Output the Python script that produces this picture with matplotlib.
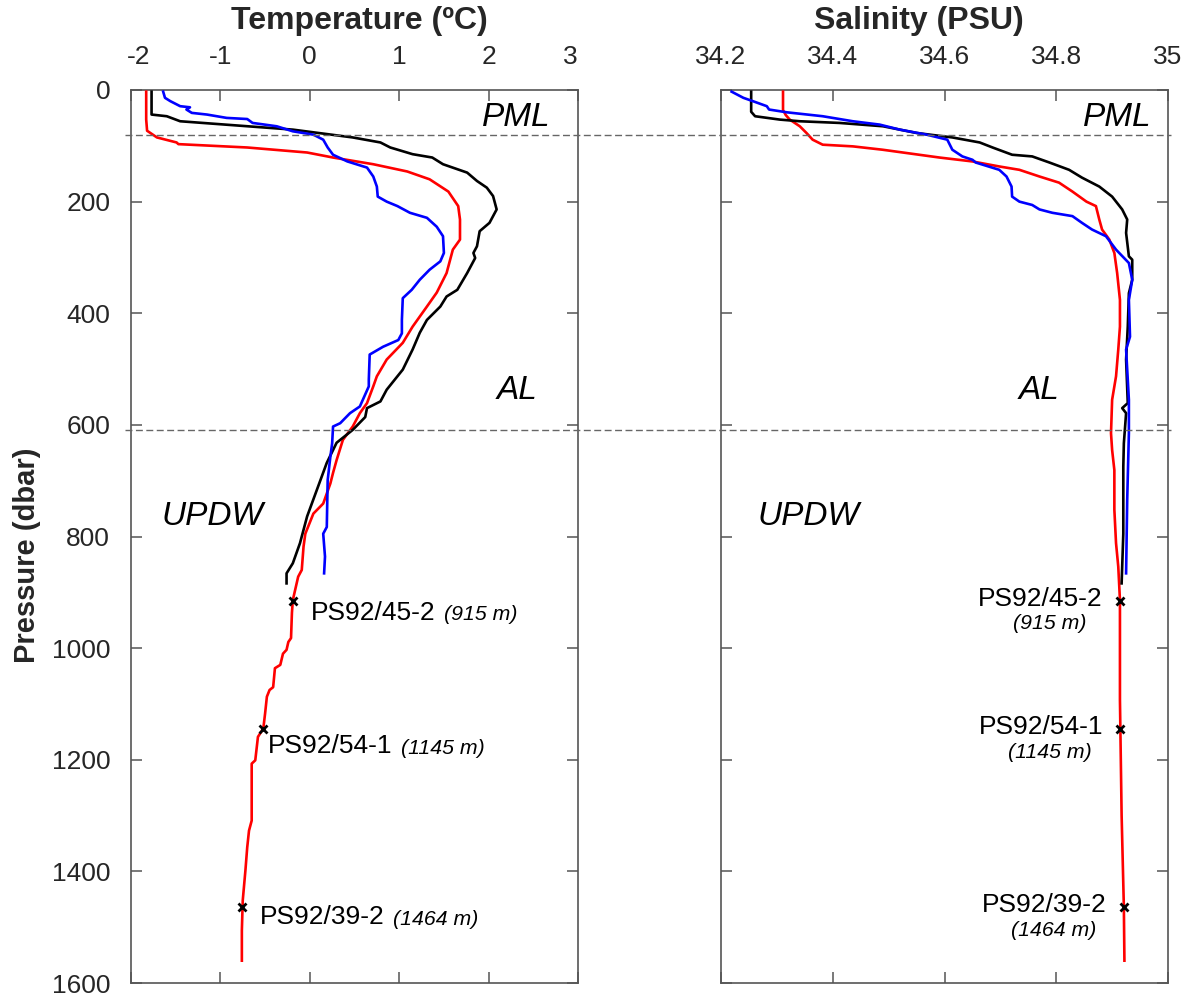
import matplotlib
matplotlib.use("Agg")
import matplotlib.pyplot as plt
from matplotlib.lines import Line2D
import matplotlib.transforms as mtransforms

plt.rcParams['font.family'] = ['Liberation Sans', 'DejaVu Sans']

# ---------------- data ----------------
# Temperature profiles (pressure in dbar, temperature in degC)
blk_T_p = [3, 44, 47, 56, 71, 85, 94, 103, 115, 121, 133, 148, 163, 175, 190, 214, 238, 253, 280, 292,
           301, 328, 358, 370, 388, 412, 435, 465, 501, 537, 558, 570, 586, 609, 632, 668, 716, 764, 812,
           848, 866, 884]
blk_T = [-1.77, -1.77, -1.60, -1.45, -0.19, 0.48, 0.79, 0.90, 1.15, 1.37, 1.49, 1.76, 1.87, 1.98, 2.05,
         2.09, 2.01, 1.90, 1.87, 1.83, 1.85, 1.76, 1.65, 1.53, 1.46, 1.31, 1.23, 1.15, 1.04, 0.86, 0.79,
         0.64, 0.62, 0.48, 0.30, 0.19, 0.08, -0.03, -0.11, -0.19, -0.26, -0.26]

red_T_p = [3, 53, 73, 85, 94, 97, 103, 112, 121, 133, 146, 160, 182, 208, 232, 268, 286, 328, 363, 388,
           424, 453, 483, 513, 531, 561, 579, 603, 627, 663, 686, 705, 741, 759, 795, 818, 860, 872, 914,
           937, 982, 989, 1003, 1010, 1030, 1036, 1070, 1075, 1087, 1117, 1144, 1159, 1201, 1207, 1309,
           1327, 1357, 1398, 1452, 1506, 1560]
red_T = [-1.83, -1.83, -1.82, -1.71, -1.49, -1.47, -0.70, -0.03, 0.26, 0.71, 1.09, 1.34, 1.55, 1.66,
         1.68, 1.68, 1.60, 1.53, 1.42, 1.31, 1.15, 1.04, 0.86, 0.75, 0.71, 0.64, 0.56, 0.48, 0.37, 0.30,
         0.26, 0.23, 0.15, 0.04, -0.05, -0.07, -0.09, -0.13, -0.19, -0.20, -0.21, -0.24, -0.26, -0.30,
         -0.33, -0.39, -0.41, -0.45, -0.48, -0.50, -0.52, -0.58, -0.61, -0.65, -0.65, -0.68, -0.70,
         -0.72, -0.75, -0.76, -0.76]

blu_T_p = [3, 14, 20, 29, 31, 35, 41, 44, 50, 52, 59, 65, 74, 80, 89, 103, 116, 128, 139, 155, 173, 191,
           200, 208, 220, 229, 245, 262, 292, 307, 322, 340, 358, 373, 412, 436, 448, 460, 474, 519, 531,
           567, 579, 597, 603, 633, 657, 699, 783, 795, 836, 866]
blu_T = [-1.64, -1.62, -1.56, -1.45, -1.34, -1.38, -1.32, -1.15, -0.93, -0.70, -0.64, -0.37, -0.19, 0.04,
         0.15, 0.20, 0.26, 0.42, 0.64, 0.71, 0.75, 0.76, 0.86, 0.98, 1.12, 1.31, 1.42, 1.49, 1.50, 1.46,
         1.34, 1.23, 1.14, 1.04, 1.03, 1.03, 0.99, 0.82, 0.67, 0.66, 0.66, 0.56, 0.45, 0.34, 0.26, 0.25,
         0.23, 0.20, 0.19, 0.15, 0.17, 0.16]

# Salinity profiles (pressure in dbar, salinity in PSU)
blk_S_p = [3, 39, 47, 53, 56, 59, 65, 77, 85, 94, 103, 116, 119, 130, 143, 157, 173, 191, 214, 232,
           256, 298, 304, 340, 364, 424, 483, 561, 570, 579, 633, 675, 795, 884]
blk_S = [34.254, 34.254, 34.261, 34.305, 34.341, 34.412, 34.490, 34.550, 34.614, 34.663, 34.686, 34.721,
         34.757, 34.788, 34.823, 34.846, 34.877, 34.900, 34.918, 34.927, 34.925, 34.930, 34.936, 34.936,
         34.930, 34.928, 34.925, 34.928, 34.918, 34.925, 34.921, 34.920, 34.920, 34.917]

red_S_p = [3, 36, 45, 53, 65, 77, 89, 98, 101, 107, 121, 128, 137, 143, 155, 166, 182, 200, 208, 232,
           250, 268, 292, 328, 376, 424, 465, 513, 555, 615, 645, 681, 752, 812, 854, 914, 1093, 1300,
           1464, 1560]
red_S = [34.311, 34.311, 34.316, 34.323, 34.341, 34.353, 34.364, 34.382, 34.436, 34.489, 34.591, 34.650,
         34.698, 34.734, 34.770, 34.805, 34.829, 34.854, 34.871, 34.877, 34.882, 34.895, 34.904, 34.909,
         34.914, 34.914, 34.911, 34.907, 34.900, 34.898, 34.900, 34.904, 34.904, 34.907, 34.911, 34.914,
         34.914, 34.917, 34.921, 34.922]

blu_S_p = [3, 14, 20, 29, 35, 40, 47, 56, 62, 71, 80, 89, 107, 119, 125, 130, 143, 155, 173, 191, 200,
           206, 214, 220, 226, 238, 250, 262, 286, 310, 340, 376, 442, 465, 555, 615, 734, 866]
blu_S = [34.219, 34.240, 34.257, 34.282, 34.286, 34.318, 34.382, 34.436, 34.484, 34.520, 34.568, 34.605,
         34.614, 34.632, 34.650, 34.656, 34.698, 34.711, 34.720, 34.721, 34.734, 34.757, 34.770, 34.793,
         34.829, 34.846, 34.864, 34.889, 34.907, 34.930, 34.936, 34.930, 34.932, 34.925, 34.930, 34.930,
         34.927, 34.925]

# Stations (sample depth markers)
station_names = ["PS92/45-2", "PS92/54-1", "PS92/39-2"]
station_depth_labels = ["(915 m)", "(1145 m)", "(1464 m)"]
station_P = [915, 1145, 1464]
station_T = [-0.19, -0.52, -0.76]
station_S = [34.914, 34.914, 34.921]

# Water-mass boundaries and labels
boundary_P = [80, 610]
layer_names = ["PML", "AL", "UPDW"]
layer_P = [65, 553, 779]
layer_T = [2.31, 2.32, -1.09]
layer_S = [34.909, 34.77, 34.357]

T_ticks = [-2, -1, 0, 1, 2, 3]
S_ticks = [34.2, 34.4, 34.6, 34.8, 35.0]
S_ticklabels = ["34.2", "34.4", "34.6", "34.8", "35"]
P_ticks = list(range(0, 1601, 200))

# ---------------- figure ----------------
W, H = 1190, 996
fig = plt.figure(figsize=(W / 100, H / 100), dpi=100)
ax1 = fig.add_axes([131 / W, 13 / H, 447 / W, 893 / H])
ax2 = fig.add_axes([721 / W, 13 / H, 447 / W, 893 / H])

spine_col = '#555555'
tick_col = '#262626'
lw = 1.9

ax1.plot(red_T, red_T_p, color='#ff0000', lw=lw, zorder=3)
ax1.plot(blk_T, blk_T_p, color='black', lw=lw, zorder=4)
ax1.plot(blu_T, blu_T_p, color='#0000ff', lw=lw, zorder=5)
ax1.plot(station_T, station_P, ls='none', marker='x', ms=6, mew=2, color='black', zorder=6)

ax2.plot(red_S, red_S_p, color='#ff0000', lw=lw, zorder=3)
ax2.plot(blk_S, blk_S_p, color='black', lw=lw, zorder=4)
ax2.plot(blu_S, blu_S_p, color='#0000ff', lw=lw, zorder=5)
ax2.plot(station_S, station_P, ls='none', marker='x', ms=6, mew=2, color='black', zorder=6)

for ax in (ax1, ax2):
    ax.set_ylim(1600, 0)
    ax.set_yticks(P_ticks)
    ax.xaxis.tick_top()
    ax.tick_params(axis='both', which='both', direction='in', length=8, width=1.1,
                   color=spine_col, labelcolor=tick_col, labelsize=19, pad=15,
                   top=True, bottom=True, left=True, right=True)
    ax.tick_params(axis='x', labeltop=True, labelbottom=False)
    for s in ax.spines.values():
        s.set_color(spine_col)
        s.set_linewidth(1.2)

ax1.set_xlim(-2, 3)
ax1.set_xticks(T_ticks)
ax1.set_xticklabels([str(t) for t in T_ticks])
ax2.set_xlim(34.2, 35.0)
ax2.set_xticks(S_ticks)
ax2.set_xticklabels(S_ticklabels)
ax2.tick_params(axis='y', labelleft=False)

# nudge the end labels of the temperature axis inward, as in the original
ticks1 = ax1.xaxis.get_major_ticks()
ticks1[0].label2.set_transform(ticks1[0].label2.get_transform() +
                               mtransforms.ScaledTranslation(8 / 100, 0, fig.dpi_scale_trans))
ticks1[-1].label2.set_transform(ticks1[-1].label2.get_transform() +
                                mtransforms.ScaledTranslation(-8 / 100, 0, fig.dpi_scale_trans))

# titles
fig.text(359 / W, 1 - 21 / H, "Temperature (ºC)", ha='center', va='center',
         fontsize=23, fontweight='bold', color='#262626')
fig.text(919 / W, 1 - 21 / H, "Salinity (PSU)", ha='center', va='center',
         fontsize=23, fontweight='bold', color='#262626')
fig.text(27 / W, 1 - 555 / H, "Pressure (dbar)", ha='center', va='center', rotation=90,
         fontsize=21, fontweight='bold', color='#262626',
         family=['Liberation Sans Narrow', 'Liberation Sans', 'DejaVu Sans'])

# dashed boundaries across both panels
tr = mtransforms.blended_transform_factory(fig.transFigure, ax1.transData)
for p in boundary_P:
    fig.add_artist(Line2D([0.105, 0.984], [p, p], transform=tr, ls=(0, (5, 2.5)),
                          lw=1.0, color='#666666', zorder=10))

# layer labels
for name, p, t, s in zip(layer_names, layer_P, layer_T, layer_S):
    ax1.text(t, p, name, ha='center', va='baseline', fontsize=24, style='italic')
    ax2.text(s, p, name, ha='center', va='baseline', fontsize=24, style='italic')

# station labels, temperature panel
t_offsets = [(18, -12), (5, -17), (18, -10)]
for name, dl, t, p, (dx, dy) in zip(station_names, station_depth_labels, station_T, station_P, t_offsets):
    ax1.annotate(name, xy=(t, p), xytext=(dx, dy), textcoords='offset pixels',
                 ha='left', va='center', fontsize=19)
    ax1.annotate(dl, xy=(t, p), xytext=(dx + 133, dy - 2), textcoords='offset pixels',
                 ha='left', va='center', fontsize=15.3, style='italic')

# station labels, salinity panel
for name, dl, s, p in zip(station_names, station_depth_labels, station_S, station_P):
    ax2.annotate(name, xy=(s, p), xytext=(-17, 2), textcoords='offset pixels',
                 ha='right', va='center', fontsize=19)
    ax2.annotate(dl, xy=(s, p), xytext=(-70, -23), textcoords='offset pixels',
                 ha='center', va='center', fontsize=15.3, style='italic')

fig.savefig("out.png", dpi=100)
